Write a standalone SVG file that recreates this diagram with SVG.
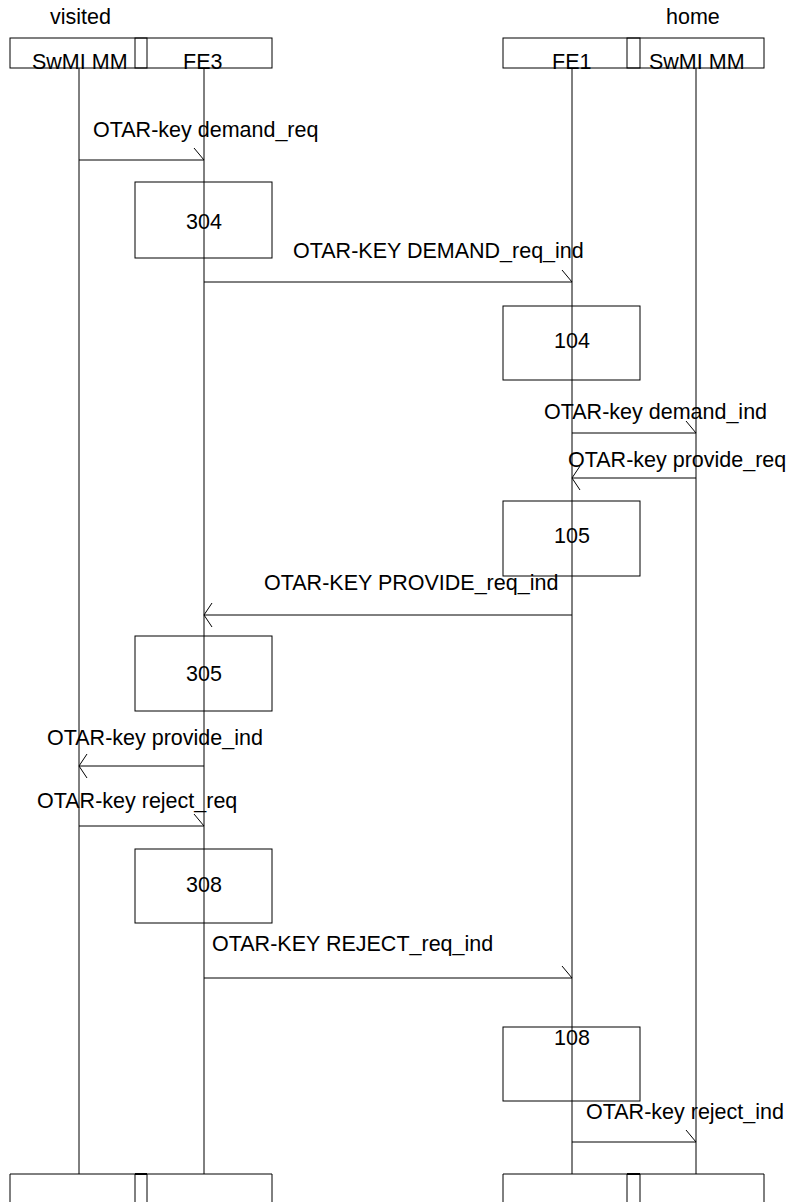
<svg xmlns="http://www.w3.org/2000/svg" width="792" height="1202" viewBox="0 0 792 1202">
<style>
text{font-family:"Liberation Sans",Arial,sans-serif;font-size:21.5px;fill:#000}
.b{fill:none;stroke:#000;stroke-width:1}
.ll{stroke:#000;stroke-width:1}
.m{stroke:#000;stroke-width:1;fill:none}
.c{text-anchor:middle}
</style>
<defs>
<marker id="half" markerUnits="userSpaceOnUse" markerWidth="30" markerHeight="30" refX="0" refY="0" viewBox="-15 -15 30 30" orient="auto" overflow="visible">
<path d="M-10,-12 L0,0" stroke="#000" stroke-width="1" fill="none"/>
</marker>
<marker id="vee" markerUnits="userSpaceOnUse" markerWidth="30" markerHeight="30" refX="0" refY="0" viewBox="-15 -15 30 30" orient="auto" overflow="visible">
<path d="M-8,-12 L0,0 L-8,12" stroke="#000" stroke-width="1" fill="none"/>
</marker>
</defs>
<rect width="792" height="1202" fill="#fff"/>
<text x="50" y="24">visited</text>
<text x="666" y="24">home</text>
<g id="hdr_visited">
<rect class="b" x="10" y="38" width="262" height="30"/>
<rect class="b" x="135" y="38" width="12" height="30"/>
<text x="32" y="69">SwMI MM</text>
<text x="183" y="69">FE3</text>
</g>
<g id="hdr_home">
<rect class="b" x="503" y="38" width="261" height="30"/>
<rect class="b" x="627" y="38" width="13" height="30"/>
<text x="552" y="69">FE1</text>
<text x="649" y="69">SwMI MM</text>
</g>
<g id="lifelines">
<line class="ll" x1="79" y1="68" x2="79" y2="1174"/>
<line class="ll" x1="204" y1="68" x2="204" y2="1174"/>
<line class="ll" x1="572" y1="68" x2="572" y2="1174"/>
<line class="ll" x1="696" y1="68" x2="696" y2="1174"/>
</g>
<g id="ftr_visited">
<path class="b" d="M10,1210 V1174 H272 V1210"/>
<path class="b" d="M135,1210 V1174 H147 V1210"/>
<line x1="135" y1="1174" x2="147" y2="1174" stroke="#000" stroke-width="2"/>
</g>
<g id="ftr_home">
<path class="b" d="M503,1210 V1174 H764 V1210"/>
<path class="b" d="M627,1210 V1174 H640 V1210"/>
<line x1="627" y1="1174" x2="640" y2="1174" stroke="#000" stroke-width="2"/>
</g>
<g id="box304"><rect class="b" x="135" y="182" width="137" height="76"/><text class="c" x="204" y="229">304</text></g>
<g id="box104"><rect class="b" x="503" y="306" width="137" height="74"/><text class="c" x="572" y="348">104</text></g>
<g id="box105"><rect class="b" x="503" y="501" width="137" height="75"/><text class="c" x="572" y="543">105</text></g>
<g id="box305"><rect class="b" x="135" y="636" width="137" height="75"/><text class="c" x="204" y="681">305</text></g>
<g id="box308"><rect class="b" x="135" y="849" width="137" height="74"/><text class="c" x="204" y="892">308</text></g>
<g id="box108"><rect class="b" x="503" y="1027" width="137" height="74"/><text class="c" x="572" y="1045">108</text></g>
<g id="connectors">
<line class="m" x1="79" y1="160" x2="204" y2="160" marker-end="url(#half)"/>
<line class="m" x1="204" y1="282" x2="572" y2="282" marker-end="url(#half)"/>
<line class="m" x1="572" y1="433" x2="696" y2="433" marker-end="url(#half)"/>
<line class="m" x1="696" y1="478" x2="572" y2="478" marker-end="url(#vee)"/>
<line class="m" x1="572" y1="615" x2="204" y2="615" marker-end="url(#vee)"/>
<line class="m" x1="204" y1="766" x2="79" y2="766" marker-end="url(#vee)"/>
<line class="m" x1="79" y1="826" x2="204" y2="826" marker-end="url(#half)"/>
<line class="m" x1="204" y1="978" x2="572" y2="978" marker-end="url(#half)"/>
<line class="m" x1="572" y1="1142" x2="696" y2="1142" marker-end="url(#half)"/>
</g>
<g id="labels">
<text x="93" y="137">OTAR-key demand_req</text>
<text x="293" y="258">OTAR-KEY DEMAND_req_ind</text>
<text x="544" y="419">OTAR-key demand_ind</text>
<text x="568" y="467">OTAR-key provide_req</text>
<text x="264" y="590">OTAR-KEY PROVIDE_req_ind</text>
<text x="47" y="745">OTAR-key provide_ind</text>
<text x="37" y="808">OTAR-key reject_req</text>
<text x="212" y="951">OTAR-KEY REJECT_req_ind</text>
<text x="586" y="1119">OTAR-key reject_ind</text>
</g>
</svg>
